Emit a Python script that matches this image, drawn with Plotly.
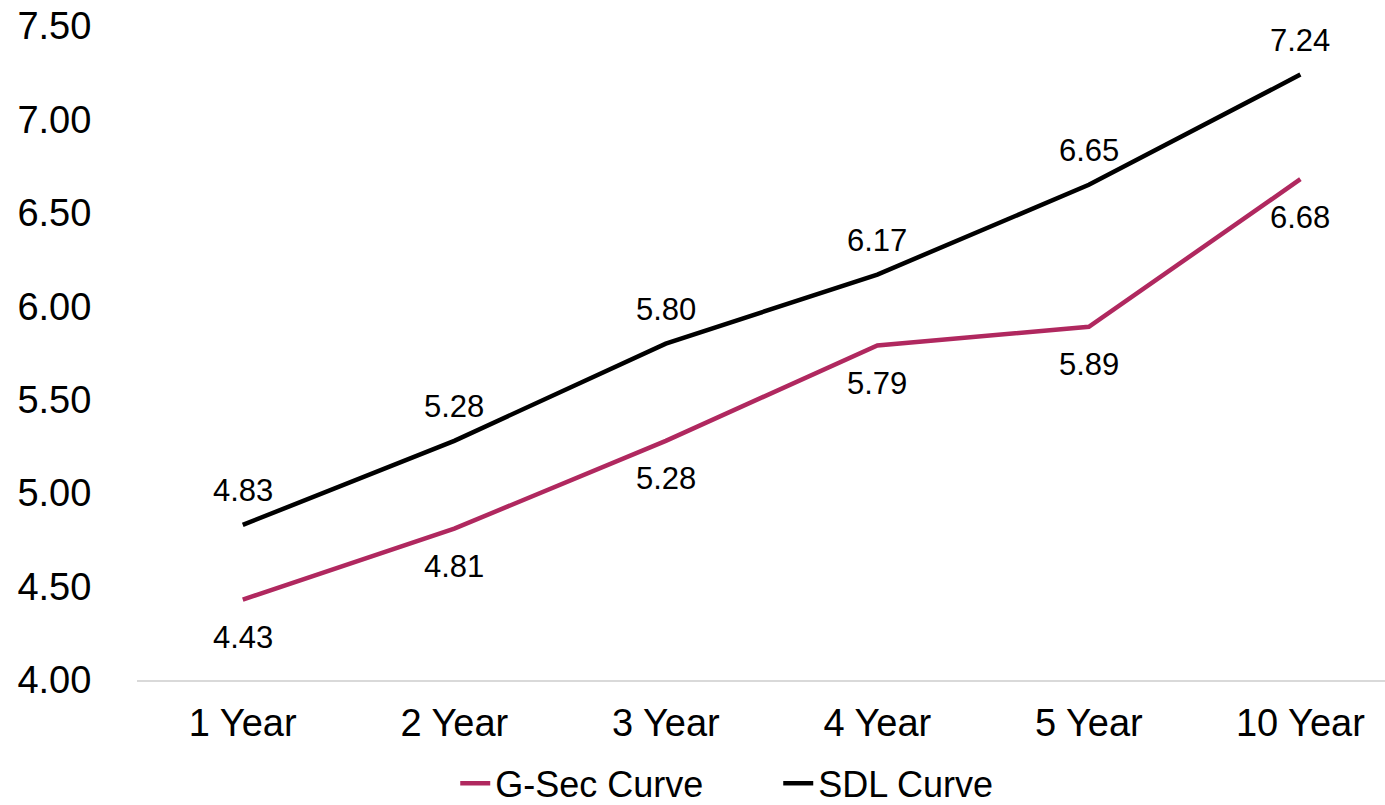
import plotly.graph_objects as go

tenors = ["1 Year", "2 Year", "3 Year", "4 Year", "5 Year", "10 Year"]
gsec = [4.43, 4.81, 5.28, 5.79, 5.89, 6.68]
sdl = [4.83, 5.28, 5.80, 6.17, 6.65, 7.24]
y_ticks = [4.0, 4.5, 5.0, 5.5, 6.0, 6.5, 7.0, 7.5]

GSEC_COLOR = "#B0285F"
SDL_COLOR = "#000000"
FONT = "Liberation Sans, Arial, sans-serif"

fig = go.Figure()
fig.add_trace(go.Scatter(x=tenors, y=gsec, mode="lines", name="G-Sec Curve",
                         line=dict(color=GSEC_COLOR, width=4.5)))
fig.add_trace(go.Scatter(x=tenors, y=sdl, mode="lines", name="SDL Curve",
                         line=dict(color=SDL_COLOR, width=4.5)))

annotations = []
for t, v in zip(tenors, sdl):
    annotations.append(dict(x=t, y=v, text=f"{v:.2f}", showarrow=False,
                            yshift=34, font=dict(size=31, color="#000", family=FONT)))
for t, v in zip(tenors, gsec):
    annotations.append(dict(x=t, y=v, text=f"{v:.2f}", showarrow=False,
                            yshift=-38, font=dict(size=31, color="#000", family=FONT)))

fig.update_layout(
    width=1385, height=805,
    margin=dict(l=137, r=0, t=26, b=125, autoexpand=False),
    paper_bgcolor="white", plot_bgcolor="white",
    font=dict(family=FONT, color="#000"),
    annotations=annotations,
    showlegend=True,
    legend=dict(orientation="h", x=0.255, xanchor="left", y=-0.158, yanchor="middle",
                font=dict(size=36, family=FONT), entrywidth=278, entrywidthmode="pixels",
                tracegroupgap=0),
    xaxis=dict(type="category", range=[-0.5, 5.4], showline=True, linecolor="#d9d9d9",
               linewidth=2, showgrid=False, zeroline=False, ticks="outside",
               ticklen=8, tickcolor="rgba(0,0,0,0)", tickfont=dict(size=38, family=FONT)),
    yaxis=dict(range=[4, 7.5], tickvals=y_ticks, tickformat=".2f", showgrid=False,
               zeroline=False, showline=False, ticks="outside", ticklen=37,
               tickcolor="rgba(0,0,0,0)", tickfont=dict(size=38, family=FONT)),
)

fig.write_html("out.html")
